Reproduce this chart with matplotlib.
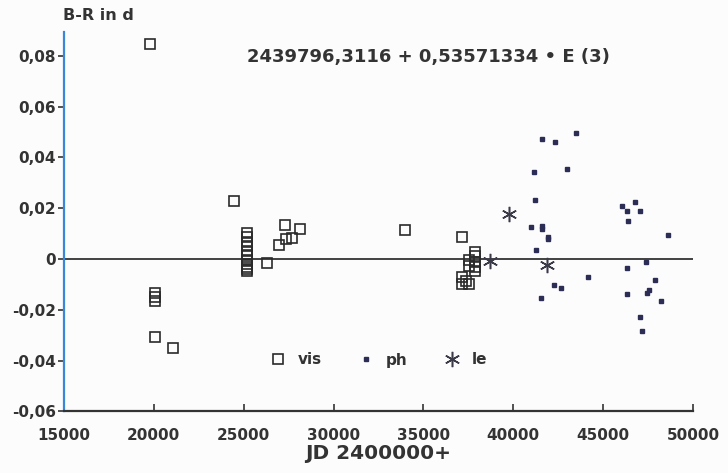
import matplotlib
matplotlib.use("Agg")
import matplotlib.pyplot as plt
from matplotlib.lines import Line2D

# visual estimates (vis), squares
vis_jd = [19800, 24480,
          25170, 25170, 25170, 25170, 25170, 25170, 25170, 25170, 25170, 25170, 25170,
          26290, 26990, 27320, 27360, 27700, 28130,
          20070, 20070, 20070, 20070, 21050,
          33990, 37160,
          37880, 37880, 37880, 37880, 37880,
          37510, 37510,
          37140, 37140, 37550, 37350]
vis_br = [0.0846, 0.0230,
          0.0104, 0.0086, 0.0068, 0.0050, 0.0032, 0.0014, -0.0004, -0.0018, -0.0030, -0.0040, -0.0049,
          -0.0017, 0.0057, 0.0135, 0.0080, 0.0083, 0.0118,
          -0.0135, -0.0150, -0.0165, -0.0307, -0.0349,
          0.0116, 0.0088,
          0.0028, 0.0010, -0.0010, -0.0030, -0.0048,
          -0.0005, -0.0028,
          -0.0072, -0.0100, -0.0100, -0.0085]

# photographic (ph), small dots
ph_jd = [41600, 42300, 43490, 41170, 43000, 41210, 40990, 41620, 41620, 41930, 41930,
         41260, 42240, 42630, 41540, 44160,
         46070, 46750, 46350, 47050, 46400, 48590, 47400, 46330, 47870,
         46330, 47530, 47440, 48240, 47070, 47160]
ph_br = [0.0472, 0.0459, 0.0496, 0.0344, 0.0354, 0.0234, 0.0125, 0.0128, 0.0118, 0.0088, 0.0078,
         0.0037, -0.0103, -0.0115, -0.0155, -0.0069,
         0.0210, 0.0226, 0.0190, 0.0190, 0.0150, 0.0096, -0.0012, -0.0035, -0.0082,
         -0.0137, -0.0122, -0.0133, -0.0167, -0.0227, -0.0284]

# le, asterisks
le_jd = [39780, 38720, 41880]
le_br = [0.0178, -0.0006, -0.0024]

x_ticks = [15000, 20000, 25000, 30000, 35000, 40000, 45000, 50000]
y_ticks = [-0.06, -0.04, -0.02, 0, 0.02, 0.04, 0.06, 0.08]
y_labels = ["-0,06", "-0,04", "-0,02", "0", "0,02", "0,04", "0,06", "0,08"]

def main():
    plt.rcParams["font.family"] = "DejaVu Sans"
    plt.rcParams["font.weight"] = "bold"

    fig = plt.figure(figsize=(7.28, 4.73), dpi=100)
    fig.patch.set_facecolor("#fcfcfc")
    ax = fig.add_axes([0.0879, 0.1304, 0.952 - 0.0879, 0.9323 - 0.1304])
    ax.set_facecolor("#fcfcfc")

    ax.axhline(0, color="#222222", lw=1.2, zorder=1)

    ax.plot(vis_jd, vis_br, ls="none", marker="s", ms=7, mfc="none",
            mec="#2a2a2a", mew=1.2, zorder=3)
    ax.plot(ph_jd, ph_br, ls="none", marker="s", ms=2.6, mfc="#2b2d55",
            mec="#2b2d55", zorder=3)
    ax.plot(le_jd, le_br, ls="none", marker=(6, 2, 0), ms=11,
            mec="#3b3a48", mew=1.1, zorder=4)

    ax.set_xlim(15000, 50000)
    ax.set_ylim(-0.06, 0.0894)
    ax.set_xticks(x_ticks)
    ax.set_xticklabels([str(t) for t in x_ticks])
    ax.set_yticks(y_ticks)
    ax.set_yticklabels(y_labels)

    for s in ["top", "right"]:
        ax.spines[s].set_visible(False)
    ax.spines["left"].set_color("#3a86d8")
    ax.spines["left"].set_linewidth(1.6)
    ax.spines["bottom"].set_color("#333333")
    ax.spines["bottom"].set_linewidth(1.6)

    ax.tick_params(axis="x", direction="in", length=5, width=1.3, color="#444444",
                   labelsize=11, pad=12, labelcolor="#333333")
    ax.tick_params(axis="y", direction="out", length=4, width=1.3, color="#444444",
                   labelsize=11, pad=2, labelcolor="#333333")

    ax.set_xlabel("JD 2400000+", fontsize=14.5, fontweight="bold",
                  color="#333333", labelpad=1)

    fig.text(63 / 728, 1 - 15 / 473, "B-R in d", fontsize=11.5, color="#333333",
             ha="left", va="center")
    fig.text(428 / 728, 1 - 57 / 473, "2439796,3116 + 0,53571334 \u2022 E (3)",
             fontsize=13, color="#333333", ha="center", va="center")

    handles = [
        Line2D([], [], ls="none", marker="s", ms=7, mfc="none", mec="#2a2a2a", mew=1.2),
        Line2D([], [], ls="none", marker="s", ms=2.6, mfc="#2b2d55", mec="#2b2d55"),
        Line2D([], [], ls="none", marker=(6, 2, 0), ms=11, mec="#3b3a48", mew=1.1),
    ]
    lg = fig.legend(handles, ["vis", "ph", "le"], loc="center left",
                    bbox_to_anchor=(270 / 728, 1 - 360 / 473), ncol=3,
                    frameon=False, fontsize=11, handlelength=1.0,
                    handletextpad=0.8, columnspacing=2.4, borderpad=0,
                    borderaxespad=0)
    for t in lg.get_texts():
        t.set_color("#333333")

    fig.savefig("out.png", dpi=100, facecolor=fig.get_facecolor())

if __name__ == "__main__":
    main()
